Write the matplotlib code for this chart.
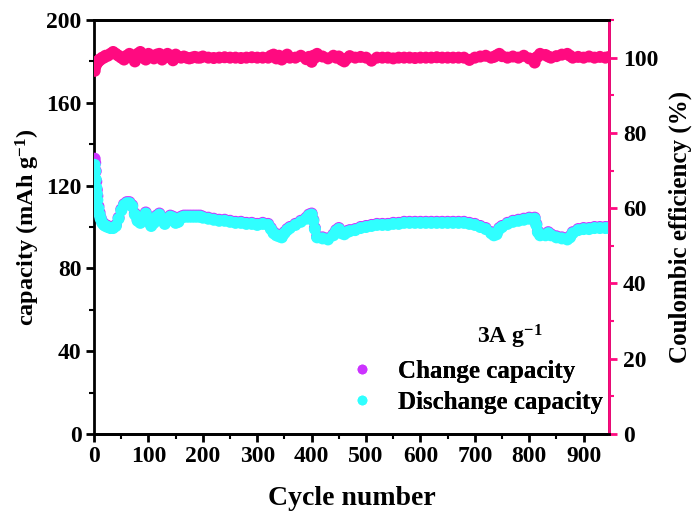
import matplotlib
matplotlib.use("Agg")
import matplotlib.pyplot as plt
from matplotlib.ticker import MultipleLocator
from matplotlib.lines import Line2D

plt.rcParams['font.family'] = ['Liberation Serif', 'DejaVu Serif']
plt.rcParams['font.weight'] = 'bold'
plt.rcParams['mathtext.fontset'] = 'custom'
plt.rcParams['mathtext.rm'] = 'Liberation Serif:bold'
plt.rcParams['mathtext.default'] = 'rm'

# cycle numbers at which capacity / efficiency were sampled
cycles = [1, 2, 3, 4, 5, 6, 8, 10, 12, 15,
          18, 21, 25, 30, 35, 40, 45, 50, 55, 60,
          65, 70, 75, 80, 85, 90, 95, 100, 105, 110,
          115, 120, 125, 130, 135, 140, 145, 150, 155, 160,
          165, 170, 175, 180, 185, 190, 195, 200, 210, 220,
          230, 240, 250, 260, 270, 280, 290, 300, 310, 320,
          325, 330, 335, 340, 345, 350, 355, 360, 370, 380,
          390, 395, 400, 403, 406, 410, 420, 430, 440, 445,
          450, 455, 460, 465, 470, 480, 490, 500, 510, 520,
          530, 540, 550, 560, 570, 580, 590, 600, 610, 620,
          630, 640, 650, 660, 670, 680, 690, 700, 710, 720,
          730, 735, 740, 745, 750, 760, 770, 780, 790, 800,
          810, 813, 816, 820, 830, 835, 840, 850, 860, 870,
          875, 880, 890, 900, 910, 920, 930, 940, 947]

# discharge capacity, mAh/g
discharge = [130, 127, 123, 119, 116, 113, 109, 106, 104, 102,
             101, 100.5, 100, 99.5, 99.5, 100.5, 104, 108, 110.5, 111.5,
             111.5, 110, 106, 103, 102, 104.5, 106.5, 104, 100.5, 102,
             105, 106, 104, 101.5, 103, 105, 104.5, 102, 102.5, 104.5,
             105, 105, 105, 105, 105, 105, 105, 104.5, 104, 103.5,
             103, 103, 102.5, 102, 102, 101.5, 101.5, 101, 101.5, 101,
             99, 97, 96, 95.5, 95, 97, 98.5, 99.5, 101, 102.5,
             104, 105.5, 106, 103, 99, 95, 94.5, 94, 96, 98,
             99, 97, 96.5, 97.5, 98, 98.5, 99.5, 100, 100.5, 101,
             101, 101, 101.5, 101.5, 102, 102, 102, 102, 102, 102,
             102, 102, 102, 102, 102, 102, 101.5, 101, 100, 99,
             97, 96, 96.5, 99, 100, 101.5, 102.5, 103, 103.5, 104,
             104, 101, 97.5, 96, 96, 97, 96, 95, 94.5, 94,
             95, 97, 98.5, 99, 99, 99.5, 99.5, 99.5, 99.5]

# charge capacity, mAh/g
charge = [133, 131, 127, 122, 118, 115, 110, 107, 104.5, 102.5,
          101.5, 101, 100.5, 100, 100, 101, 104.5, 108.5, 111, 112,
          112, 110.5, 106.5, 103.5, 102.5, 105, 107, 104.5, 101, 102.5,
          105.5, 106.5, 104.5, 102, 103.5, 105.5, 105, 102.5, 103, 105,
          105.5, 105.5, 105.5, 105.5, 105.5, 105.5, 105.5, 105, 104.5, 104,
          103.5, 103.5, 103, 102.5, 102.5, 102, 102, 101.5, 102, 101.5,
          99.5, 97.5, 96.5, 96, 95.5, 97.5, 99, 100, 101.5, 103,
          104.5, 106, 106.5, 103.5, 99.5, 95.5, 95, 94.5, 96.5, 98.5,
          99.5, 97.5, 97, 98, 98.5, 99, 100, 100.5, 101, 101.5,
          101.5, 101.5, 102, 102, 102.5, 102.5, 102.5, 102.5, 102.5, 102.5,
          102.5, 102.5, 102.5, 102.5, 102.5, 102.5, 102, 101.5, 100.5, 99.5,
          97.5, 96.5, 97, 99.5, 100.5, 102, 103, 103.5, 104, 104.5,
          104.5, 101.5, 98, 96.5, 96.5, 97.5, 96.5, 95.5, 95, 94.5,
          95.5, 97.5, 99, 99.5, 99.5, 100, 100, 100, 100]

# coulombic efficiency, %
efficiency = [96.5, 97.5, 98, 98.5, 98.5, 99, 99, 99.5, 99.5, 100,
              100, 100.5, 100.5, 101, 101.5, 101, 100.5, 100, 99.5, 100.5,
              101, 100, 99, 101, 101.5, 100, 99.5, 101, 100.5, 99.8,
              100.8, 101, 99.5, 100.3, 101, 100, 99.3, 100.8, 100.2, 100,
              100.3, 100, 99.8, 100, 100.2, 100, 100, 100.3, 100, 99.9,
              100, 100.1, 100, 100, 99.9, 100, 100.1, 100, 100, 100,
              100.5, 100.8, 99.8, 100.5, 99.5, 100.3, 100.8, 100, 100, 100.5,
              99.6, 100.2, 98.9, 100.5, 100, 101, 100.3, 99.8, 100.5, 100,
              100.3, 99.4, 99, 99.8, 100.4, 100, 100.2, 100, 99.2, 100,
              100, 100, 99.8, 100, 100, 100, 99.9, 100, 100, 100,
              100.1, 100, 100, 100, 100, 100, 99.4, 100, 100.3, 100.5,
              100, 100.2, 100.6, 101, 100.4, 100, 100.3, 100, 100.5, 99.8,
              98.7, 100, 100.3, 101, 100.7, 100.3, 100, 100.4, 100.8, 101,
              100.5, 100, 100.2, 100, 100.3, 100, 100.2, 100, 100.2]

PINK = '#FF0A80'
CYAN = '#30FFFF'
VIOLET = '#CC33FF'

fig = plt.figure(figsize=(6.97, 5.13), dpi=100)
ax = fig.add_axes([0.135, 0.154, 0.739, 0.807])
ax2 = ax.twinx()

ax.scatter(cycles, charge, s=75, color=VIOLET, edgecolors='none', zorder=3)
ax.scatter(cycles, discharge, s=75, color=CYAN, edgecolors='none', zorder=4)
ax2.scatter(cycles, efficiency, s=75, color=PINK, edgecolors='none', zorder=3)

ax.set_xlim(0, 947)
ax.set_ylim(0, 200)
ax2.set_ylim(0, 110)

ax.xaxis.set_major_locator(MultipleLocator(100))
ax.xaxis.set_minor_locator(MultipleLocator(50))
ax.yaxis.set_major_locator(MultipleLocator(40))
ax.yaxis.set_minor_locator(MultipleLocator(20))
ax2.yaxis.set_major_locator(MultipleLocator(20))
ax2.yaxis.set_minor_locator(MultipleLocator(10))

for a in (ax, ax2):
    for s in a.spines.values():
        s.set_linewidth(2)
ax2.spines['right'].set_color(PINK)
ax2.spines['left'].set_visible(False)

TICK_FS = 17
ax.tick_params(axis='both', which='major', direction='out', length=6, width=2,
               labelsize=TICK_FS, pad=3)
ax.tick_params(axis='both', which='minor', direction='out', length=3.5, width=1.5)
ax.tick_params(axis='x', which='both', top=False)
ax2.tick_params(axis='y', which='major', direction='out', length=6, width=2,
                labelsize=TICK_FS, color=PINK, labelcolor='black', pad=4)
ax2.tick_params(axis='y', which='minor', direction='out', length=3.5, width=1.5,
                color=PINK)

for lbl in ax.get_xticklabels() + ax.get_yticklabels() + ax2.get_yticklabels():
    lbl.set_fontweight('bold')

ax.set_xlabel('Cycle number', fontsize=20, fontweight='bold', labelpad=13)
ax.set_ylabel('capacity (mAh g$^{-1}$)', fontsize=17.5, fontweight='bold', labelpad=3)
ax2.set_ylabel('Coulombic efficiency (%)', fontsize=18, fontweight='bold', labelpad=7)

ax.text(0.808, 0.234, '3A g$^{-1}$', transform=ax.transAxes, ha='center',
        va='center', fontsize=17, fontweight='bold')

handles = [Line2D([], [], marker='o', linestyle='none', markersize=7,
                  markerfacecolor=VIOLET, markeredgecolor='none'),
           Line2D([], [], marker='o', linestyle='none', markersize=7,
                  markerfacecolor=CYAN, markeredgecolor='none')]
leg = ax.legend(handles, ['Change capacity', 'Dischange capacity'],
                loc='lower right', bbox_to_anchor=(1.003, 0.03), frameon=False,
                prop={'size': 18, 'weight': 'bold'},
                handletextpad=0.44, borderaxespad=0.0, labelspacing=0.34,
                borderpad=0.3)
ax.add_artist(leg)

fig.savefig('out.png', dpi=100)
